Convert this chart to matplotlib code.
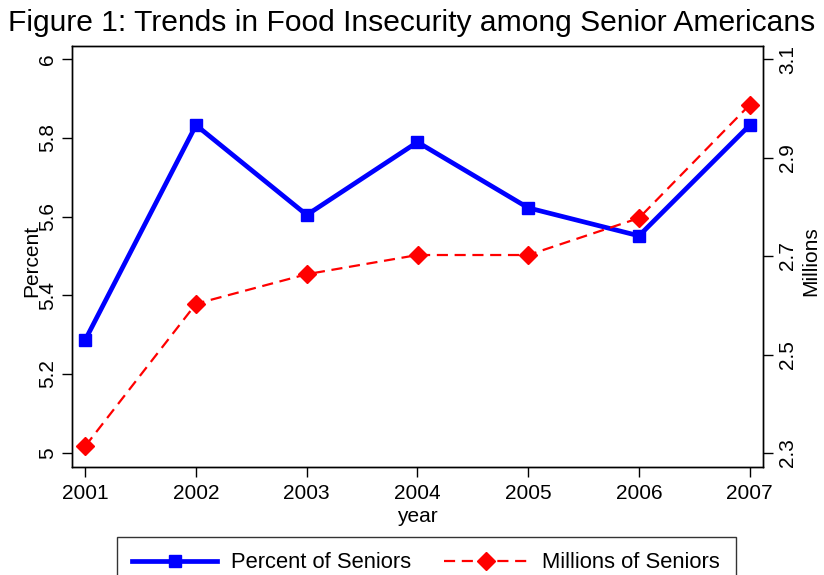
import matplotlib
matplotlib.use("Agg")
import matplotlib.pyplot as plt

plt.rcParams['font.family'] = ['Liberation Sans', 'DejaVu Sans']

years = [2001, 2002, 2003, 2004, 2005, 2006, 2007]
percent = [5.287, 5.832, 5.604, 5.789, 5.622, 5.551, 5.832]
millions = [2.314, 2.603, 2.663, 2.702, 2.702, 2.777, 3.007]

fig = plt.figure(figsize=(8.24, 5.75), dpi=100)
ax = fig.add_axes([72/824, 1 - 467/575, (763-72)/824, (467-46)/575])
ax2 = ax.twinx()

l1, = ax.plot(years, percent, color='blue', lw=3.4, marker='s', ms=8.5,
              label='Percent of Seniors', zorder=3)
l2, = ax2.plot(years, millions, color='red', lw=1.6, ls=(0, (5, 3)), marker='D', ms=9,
               label='Millions of Seniors')

ax.set_xlim(2000.88, 2007.12)
ax.set_ylim(4.964, 6.033)
ax2.set_ylim(2.3 - 14/492.5, 3.1 + 13/492.5)
ax.set_yticks([5, 5.2, 5.4, 5.6, 5.8, 6])
ax.set_yticklabels(['5', '5.2', '5.4', '5.6', '5.8', '6'], rotation=90, va='center')
ax2.set_yticks([2.3, 2.5, 2.7, 2.9, 3.1])
ax2.set_yticklabels(['2.3', '2.5', '2.7', '2.9', '3.1'], rotation=90, va='center')
ax.set_xticks(years)

for a in (ax, ax2):
    a.tick_params(labelsize=15, length=7, width=1, pad=4)
    for s in a.spines.values():
        s.set_linewidth(1)
ax.tick_params(axis='x', pad=5)

ax.set_xlabel('year', fontsize=15, labelpad=3)
ax.set_ylabel('Percent', fontsize=15)
ax.yaxis.set_label_coords(-31/691, 0.49)
ax2.set_ylabel('Millions', fontsize=15)
ax2.yaxis.set_label_coords(1 + 38/691, 0.49)
fig.suptitle('Figure 1: Trends in Food Insecurity among Senior Americans',
             fontsize=21.6, y=0.985)

fig.legend(handles=[l1, l2], loc='upper center', bbox_to_anchor=(0.517, 1 - 537/575),
           ncol=2, fontsize=15.8, frameon=True, fancybox=False, edgecolor='black',
           handlelength=3.9, handletextpad=0.6, columnspacing=1.5, borderpad=0.7,
           borderaxespad=0)

fig.savefig('out.png', dpi=100)
